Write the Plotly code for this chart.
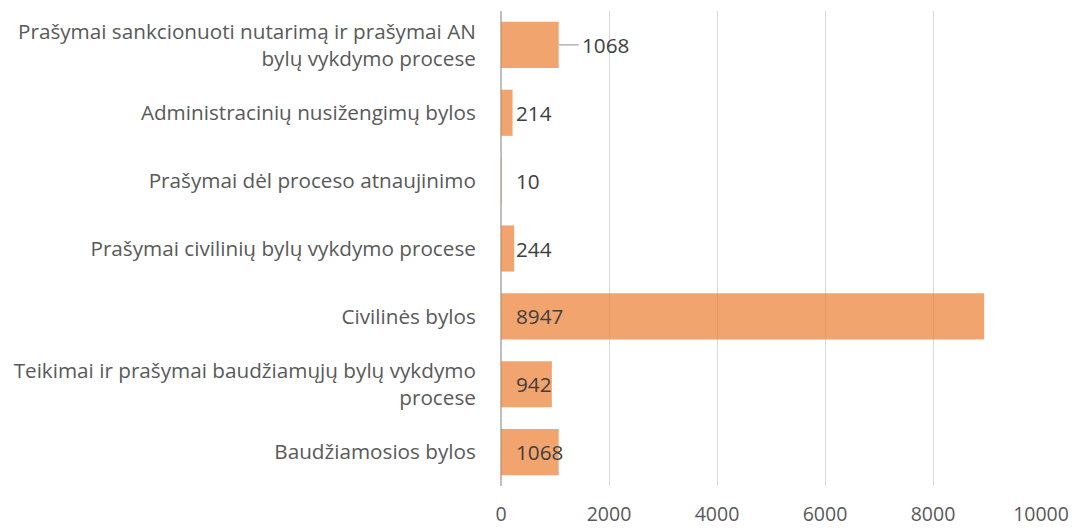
import plotly.graph_objects as go

categories = [
    "Prašymai sankcionuoti nutarimą ir prašymai AN<br>bylų vykdymo procese",
    "Administracinių nusižengimų bylos",
    "Prašymai dėl proceso atnaujinimo",
    "Prašymai civilinių bylų vykdymo procese",
    "Civilinės bylos",
    "Teikimai ir prašymai baudžiamųjų bylų vykdymo<br>procese",
    "Baudžiamosios bylos",
]
values = [1068, 214, 10, 244, 8947, 942, 1068]
x_ticks = [0, 2000, 4000, 6000, 8000, 10000]

FONT = "Open Sans"
SIZE = 20.7
fig = go.Figure()
fig.add_trace(go.Bar(
    y=categories, x=values, orientation="h",
    marker=dict(color="rgba(237,125,49,0.7)", line=dict(width=0)),
    hoverinfo="skip",
))

annotations = []
for i, (c, v) in enumerate(zip(categories, values)):
    if i == 0:
        annotations.append(dict(
            x=v, y=c, xref="x", yref="y", text=str(v), showarrow=True,
            arrowhead=0, arrowwidth=1.2, arrowcolor="#A6A6A6",
            ax=20, ay=0, xanchor="left", borderpad=2,
            font=dict(family=FONT, size=SIZE, color="#404040"),
        ))
    else:
        annotations.append(dict(
            x=0, y=c, xref="x", yref="y", text=str(v), showarrow=False,
            xanchor="left", xshift=13,
            font=dict(family=FONT, size=SIZE, color="#404040"),
        ))

fig.update_layout(
    width=1070, height=521,
    margin=dict(l=493, r=37, t=3, b=43),
    paper_bgcolor="white", plot_bgcolor="white",
    bargap=0.32, showlegend=False,
    font=dict(family=FONT, size=SIZE, color="#595959"),
    annotations=annotations,
    xaxis=dict(
        range=[0, 10000], tickvals=x_ticks, ticktext=[str(t) for t in x_ticks],
        showgrid=True, automargin=False,
        gridcolor="#D9D9D9", gridwidth=1, zeroline=True,
        zerolinecolor="#BFBFBF", zerolinewidth=1.5,
        ticks="outside", ticklen=11, tickcolor="rgba(0,0,0,0)",
        tickfont=dict(family=FONT, size=19.5, color="#595959"),
        showline=False, fixedrange=True,
    ),
    yaxis=dict(
        autorange="reversed", showgrid=False, zeroline=False, automargin=False,
        ticks="outside", ticklen=20, tickcolor="rgba(0,0,0,0)",
        tickfont=dict(family=FONT, size=SIZE, color="#595959"),
        showline=False, fixedrange=True,
    ),
)
fig.write_html("out.html")
